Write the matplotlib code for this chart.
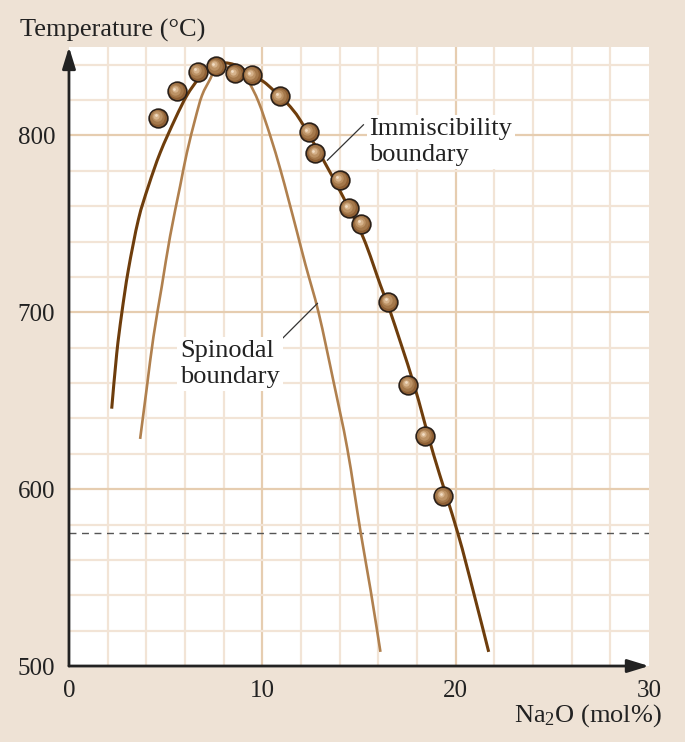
import matplotlib
matplotlib.use('Agg')
import numpy as np
import matplotlib.pyplot as plt
from matplotlib.path import Path
from matplotlib.patches import PathPatch
from matplotlib.transforms import offset_copy

# measured data points (Na2O mol%, temperature degC)
pts_x = [4.6, 5.58, 6.66, 7.59, 8.57, 9.45, 10.9, 12.39, 12.75, 14.0, 14.46, 15.13, 16.52, 17.55, 18.43, 19.36]
pts_t = [810, 825, 836, 839, 835, 834, 822, 802, 790, 775, 759, 750, 706, 659, 630, 596]

# immiscibility boundary
imm_x = [2.21, 2.47, 2.73, 3.07, 3.59, 4.11, 4.72, 5.49, 6.10, 6.70, 7.22, 7.93, 8.6,
         9.3, 10.05, 10.57, 11.3, 11.97, 13.16, 14.2, 15.23, 16.11, 16.63, 17.82, 18.86, 20.1, 20.93, 21.71]
imm_t = [645.5, 676.7, 699.4, 723.9, 752.4, 771.4, 790.3, 809.3, 822.6, 832, 837.7, 840.9, 839.8,
         835.5, 830.5, 825.6, 818, 808.5, 786, 764.8, 742, 715.3, 700, 660, 619.5, 575.6, 541.5, 508]

# spinodal boundary
spi_x = [3.68, 4.03, 4.37, 4.80, 5.23, 5.75, 6.10, 6.53, 6.88, 7.31, 7.48, 7.85, 8.24, 8.7,
         9.29, 9.81, 10.41, 10.93, 11.36, 11.80, 12.23, 12.92, 13.68, 14.4, 15.08, 15.6, 16.11]
spi_t = [628.4, 657.8, 686.2, 714.6, 743, 771.4, 790.3, 809.3, 822.6, 832, 835.8, 838, 838.6, 836.5,
         830.1, 818.8, 799.8, 780.9, 763.5, 745.2, 727, 699.4, 661, 622.7, 576, 543, 508]

x_ticks = [0, 10, 20, 30]
t_ticks = [500, 600, 700, 800]
t_dashed = 575


def smooth_path(xs, ys):
    # cubic bezier through the read points (catmull-rom tangents)
    p = np.column_stack([xs, ys])
    n = len(p)
    verts = [p[0]]
    codes = [Path.MOVETO]
    for i in range(n - 1):
        p0 = p[i - 1] if i > 0 else p[i]
        p3 = p[i + 2] if i + 2 < n else p[i + 1]
        verts += [p[i] + (p[i + 1] - p0) / 6, p[i + 1] - (p3 - p[i]) / 6, p[i + 1]]
        codes += [Path.CURVE4] * 3
    return Path(verts, codes)


bg = '#eee2d5'
plt.rcParams['font.family'] = ['Liberation Serif', 'DejaVu Serif']
plt.rcParams['mathtext.fontset'] = 'custom'
plt.rcParams['mathtext.rm'] = 'Liberation Serif'
plt.rcParams['mathtext.it'] = 'Liberation Serif:italic'

fig = plt.figure(figsize=(6.85, 7.42), dpi=100, facecolor=bg)
ax = fig.add_axes([0.1007, 0.1024, 0.8467, 0.8343])
ax.set_facecolor('white')
ax.set_xlim(0, 30)
ax.set_ylim(500, 850)

# grid
for gx in range(2, 30, 2):
    ax.axvline(gx, color='#e6cdb0' if gx % 10 == 0 else '#f2e4d6', lw=1.6, zorder=0)
for gt in range(520, 850, 20):
    ax.axhline(gt, color='#e6cdb0' if gt % 100 == 0 else '#f2e4d6', lw=1.6, zorder=0)

ax.axhline(t_dashed, color='#555555', lw=1.0, ls=(0, (5, 4)), zorder=1)

ax.add_patch(PathPatch(smooth_path(spi_x, spi_t), fc='none', ec='#b0804e', lw=1.9, capstyle='butt', zorder=2))
ax.add_patch(PathPatch(smooth_path(imm_x, imm_t), fc='none', ec='#6e3d0c', lw=2.2, capstyle='butt', zorder=2))

# shaded spheres
ax.plot(pts_x, pts_t, 'o', ms=13.5, mfc='#8e5f34', mec='#2a2019', mew=1.2, zorder=4)
layers = [(10.5, '#a4784b', -0.6, 0.6), (7.5, '#bc9265', -1.0, 1.0), (4.5, '#d6b38c', -1.4, 1.4), (2.0, '#f1dcc4', -1.7, 1.7)]
for ms, c, dx, dy in layers:
    tr = offset_copy(ax.transData, fig=fig, x=dx, y=dy, units='points')
    ax.plot(pts_x, pts_t, 'o', ms=ms, mfc=c, mec='none', transform=tr, zorder=5)

# labels with leader lines
ax.plot([15.23, 13.37], [806, 786], color='#333333', lw=0.9, zorder=3)
ax.text(15.54, 810, 'Immiscibility\nboundary', fontsize=19, va='top', ha='left', color='#222222',
        linespacing=1.25, zorder=6, bbox=dict(fc='white', ec='none', pad=2))
ax.plot([10.93, 12.85], [684, 705], color='#333333', lw=0.9, zorder=3)
ax.text(5.75, 684.5, 'Spinodal\nboundary', fontsize=19, va='top', ha='left', color='#222222',
        linespacing=1.25, zorder=6, bbox=dict(fc='white', ec='none', pad=2))

# axes
for s in ['top', 'right', 'left', 'bottom']:
    ax.spines[s].set_visible(False)
arrow = dict(arrowstyle='-|>,head_length=1.3,head_width=0.4', color='#222222', lw=2, shrinkA=0, shrinkB=0)
ax.annotate('', xy=(0, 1), xytext=(0, 0), xycoords='axes fraction', arrowprops=arrow, zorder=7)
ax.annotate('', xy=(1, 0), xytext=(0, 0), xycoords='axes fraction', arrowprops=arrow, zorder=7)

ax.set_xticks(x_ticks)
ax.set_yticks(t_ticks)
ax.tick_params(length=0, labelsize=18, colors='#222222', pad=10)

fig.text(20 / 685, 1 - 30 / 742, 'Temperature (°C)', fontsize=19, ha='left', va='center', color='#222222')
fig.text(662 / 685, 1 - 716 / 742, 'Na$_2$O (mol%)', fontsize=19, ha='right', va='center', color='#222222')

fig.savefig('out.png', dpi=100, facecolor=bg)
